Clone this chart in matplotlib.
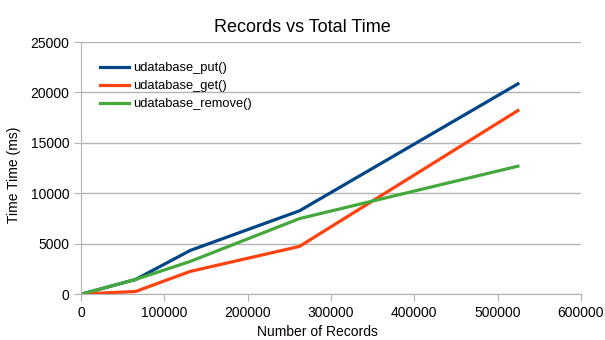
import matplotlib
matplotlib.use('Agg')
import matplotlib.pyplot as plt

plt.rcParams['font.family'] = ['Liberation Sans', 'DejaVu Sans']

# 件数ごとの処理時間 (ms)
records = [1024, 65536, 131072, 262144, 524288]
put_ms = [0, 1440, 4320, 8250, 20850]
get_ms = [0, 250, 2240, 4720, 18200]
remove_ms = [0, 1450, 3230, 7480, 12680]

fig = plt.figure(figsize=(6.05, 3.4), dpi=100)
ax = fig.add_axes([81 / 605, 46 / 340, 500 / 605, 252 / 340])

ax.plot(records, put_ms, color='#004586', lw=2.3, label='udatabase_put()')
ax.plot(records, get_ms, color='#ff420e', lw=2.3, label='udatabase_get()')
ax.plot(records, remove_ms, color='#45a83c', lw=2.3, label='udatabase_remove()')

ax.set_xlim(0, 600000)
ax.set_ylim(0, 25000)
ax.set_xticks(range(0, 600001, 100000))
ax.set_yticks(range(0, 25001, 5000))
ax.grid(axis='y', color='#b3b3b3', lw=1)
ax.set_axisbelow(True)
for s in ['top', 'right']:
    ax.spines[s].set_visible(False)
for s in ['left', 'bottom']:
    ax.spines[s].set_color('#b3b3b3')
ax.tick_params(colors='#b3b3b3', labelcolor='black', labelsize=10, length=5, direction='out')

fig.text(0.5, 1 - 27 / 340, 'Records vs Total Time', fontsize=13, ha='center', va='center')
ax.set_xlabel('Number of Records', fontsize=10)
ax.xaxis.set_label_coords(0.473, -0.122)
ax.set_ylabel('Time Time (ms)', fontsize=10)
ax.yaxis.set_label_coords(-0.12, 0.472)

ax.legend(loc='upper left', frameon=False, fontsize=9.3, handlelength=2.2,
          handletextpad=0.35, labelspacing=0.45, bbox_to_anchor=(0.015, 0.965))

fig.savefig('out.png', dpi=100)
